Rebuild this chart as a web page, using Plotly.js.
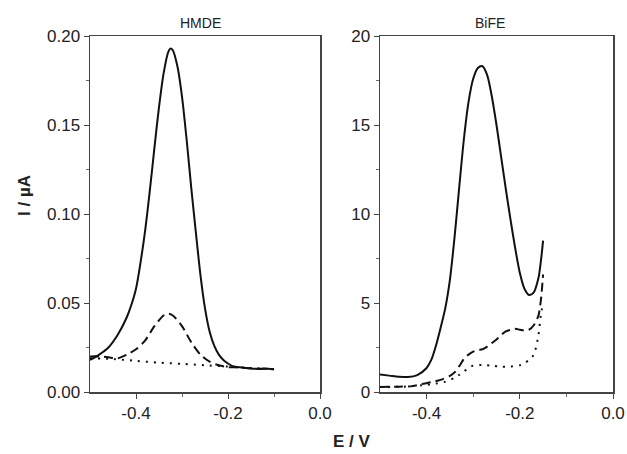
<!DOCTYPE html>
<html>
<head>
<meta charset="utf-8">
<script src="https://cdn.plot.ly/plotly-3.0.1.min.js"></script>
<style>html,body{margin:0;padding:0;background:#fff}#chart{width:627px;height:454px}</style>
</head>
<body>
<div id="chart"></div>
<script>
// HMDE panel (I in µA)
const hmdeSolidE = [-0.50,-0.48,-0.46,-0.44,-0.42,-0.41,-0.40,-0.39,-0.38,-0.37,-0.36,-0.35,-0.34,-0.33,-0.325,-0.32,-0.31,-0.30,-0.29,-0.28,-0.27,-0.26,-0.25,-0.24,-0.23,-0.22,-0.21,-0.20,-0.19,-0.18,-0.16,-0.14,-0.12,-0.10];
const hmdeSolidI = [0.018,0.021,0.025,0.032,0.042,0.049,0.058,0.073,0.091,0.113,0.137,0.160,0.179,0.191,0.193,0.192,0.183,0.166,0.142,0.115,0.090,0.066,0.047,0.034,0.026,0.021,0.018,0.016,0.0145,0.014,0.0135,0.013,0.0132,0.0128];
const hmdeDashE = [-0.50,-0.48,-0.46,-0.44,-0.42,-0.40,-0.38,-0.36,-0.34,-0.33,-0.32,-0.30,-0.28,-0.26,-0.24,-0.22,-0.20,-0.18,-0.16,-0.14,-0.12,-0.10];
const hmdeDashI = [0.020,0.020,0.0195,0.019,0.021,0.024,0.029,0.037,0.043,0.044,0.043,0.037,0.028,0.021,0.017,0.015,0.014,0.0138,0.0135,0.013,0.013,0.0128];
const hmdeDotE = [-0.50,-0.45,-0.40,-0.35,-0.30,-0.25,-0.20,-0.15,-0.10];
const hmdeDotI = [0.019,0.0185,0.0175,0.0165,0.0158,0.015,0.0143,0.0135,0.0128];

// BiFE panel (I in µA)
const bifeSolidE = [-0.50,-0.48,-0.46,-0.44,-0.42,-0.40,-0.39,-0.38,-0.37,-0.36,-0.35,-0.34,-0.33,-0.32,-0.31,-0.30,-0.29,-0.28,-0.27,-0.26,-0.25,-0.24,-0.23,-0.22,-0.21,-0.20,-0.19,-0.18,-0.17,-0.16,-0.155,-0.15];
const bifeSolidI = [0.98,0.92,0.86,0.84,0.95,1.35,1.8,2.6,3.6,4.7,6.3,8.7,11.5,14.2,16.3,17.6,18.2,18.3,17.8,16.6,15.0,13.2,11.4,9.7,8.1,6.7,5.8,5.45,5.6,6.4,7.3,8.5];
const bifeDashE = [-0.50,-0.46,-0.43,-0.41,-0.39,-0.37,-0.35,-0.34,-0.33,-0.32,-0.31,-0.30,-0.29,-0.28,-0.27,-0.26,-0.25,-0.24,-0.23,-0.22,-0.21,-0.20,-0.19,-0.18,-0.17,-0.16,-0.155,-0.15];
const bifeDashI = [0.28,0.30,0.33,0.45,0.55,0.68,0.9,1.1,1.45,1.85,2.1,2.27,2.35,2.4,2.55,2.75,2.95,3.2,3.4,3.5,3.55,3.5,3.45,3.5,3.75,4.3,5.1,6.6];
const bifeDotE = [-0.50,-0.45,-0.41,-0.38,-0.36,-0.34,-0.33,-0.32,-0.31,-0.30,-0.28,-0.26,-0.24,-0.22,-0.20,-0.19,-0.18,-0.17,-0.16,-0.155,-0.15];
const bifeDotI = [0.28,0.30,0.38,0.47,0.58,0.8,0.96,1.15,1.35,1.48,1.52,1.48,1.42,1.43,1.5,1.62,1.8,2.1,3.2,4.3,5.0];

const panelTitles = ['HMDE','BiFE'];
const xTickVals = [-0.4,-0.2,0.0];
const xTickText = ['-0.4','-0.2','0.0'];
const yLeftTicks = [0,0.05,0.10,0.15,0.20];
const yLeftText = ['0.00','0.05','0.10','0.15','0.20'];
const yRightTicks = [0,5,10,15,20];
const yRightText = ['0','5','10','15','20'];

const C = '#111';
function tr(x,y,dash,xa,ya){
  return {x:x,y:y,mode:'lines',line:{color:C,width:2,dash:dash,shape:'spline',smoothing:0.8},xaxis:xa,yaxis:ya,hoverinfo:'skip'};
}
const DOT = '2px,6px';
const DASH = '9px,5px';
const data = [
  tr(hmdeDotE,hmdeDotI,DOT,'x','y'),
  tr(hmdeDashE,hmdeDashI,DASH,'x','y'),
  tr(hmdeSolidE,hmdeSolidI,'solid','x','y'),
  tr(bifeDotE,bifeDotI,DOT,'x2','y2'),
  tr(bifeDashE,bifeDashI,DASH,'x2','y2'),
  tr(bifeSolidE,bifeSolidI,'solid','x2','y2')
];

const FAM = 'Liberation Sans, Arial, sans-serif';
const F = {family:FAM,size:17,color:'#222'};
function xax(dom,anchor){
  return {domain:dom,anchor:anchor,range:[-0.5,0],tickmode:'array',tickvals:xTickVals,ticktext:xTickText,
    ticks:'outside',ticklen:5,tickwidth:1,tickcolor:'#444',showline:true,linecolor:'#444',linewidth:1.5,mirror:true,
    showgrid:false,zeroline:false,tickfont:F,
    minor:{tickvals:[-0.3,-0.1],ticks:'outside',ticklen:3,tickcolor:'#666',showgrid:false}};
}
function yax(range,tv,tt,minorVals,anchor){
  return {domain:[1-392/454,1-36/454],anchor:anchor,range:range,tickmode:'array',tickvals:tv,ticktext:tt,
    ticks:'outside',ticklen:5,tickwidth:1,tickcolor:'#444',showline:true,linecolor:'#444',linewidth:1.5,mirror:true,
    showgrid:false,zeroline:false,tickfont:F,
    minor:{tickvals:minorVals,ticks:'outside',ticklen:3,tickcolor:'#666',showgrid:false}};
}
function ann(text,px,py,size,angle){
  return {text:text,x:px/627,y:1-py/454,xref:'paper',yref:'paper',xanchor:'center',yanchor:'middle',showarrow:false,textangle:angle||0,font:{family:FAM,size:size,color:'#222'}};
}
const layout = {
  width:627,height:454,margin:{l:0,r:0,t:0,b:0},paper_bgcolor:'#fff',plot_bgcolor:'#fff',showlegend:false,
  xaxis:xax([90/627,320/627],'y'),
  yaxis:yax([0,0.2],yLeftTicks,yLeftText,[0.025,0.075,0.125,0.175],'x'),
  xaxis2:xax([380/627,613/627],'y2'),
  yaxis2:yax([0,20],yRightTicks,yRightText,[2.5,7.5,12.5,17.5],'x2'),
  annotations:[
    ann(panelTitles[0],200,23,14),
    ann(panelTitles[1],490,23,14),
    ann('<b>I / µA</b>',24,196,17,-90),
    ann('<b>E / V</b>',352,441,17)
  ]
};
Plotly.newPlot('chart',data,layout,{staticPlot:true,displayModeBar:false});
</script>
</body>
</html>
